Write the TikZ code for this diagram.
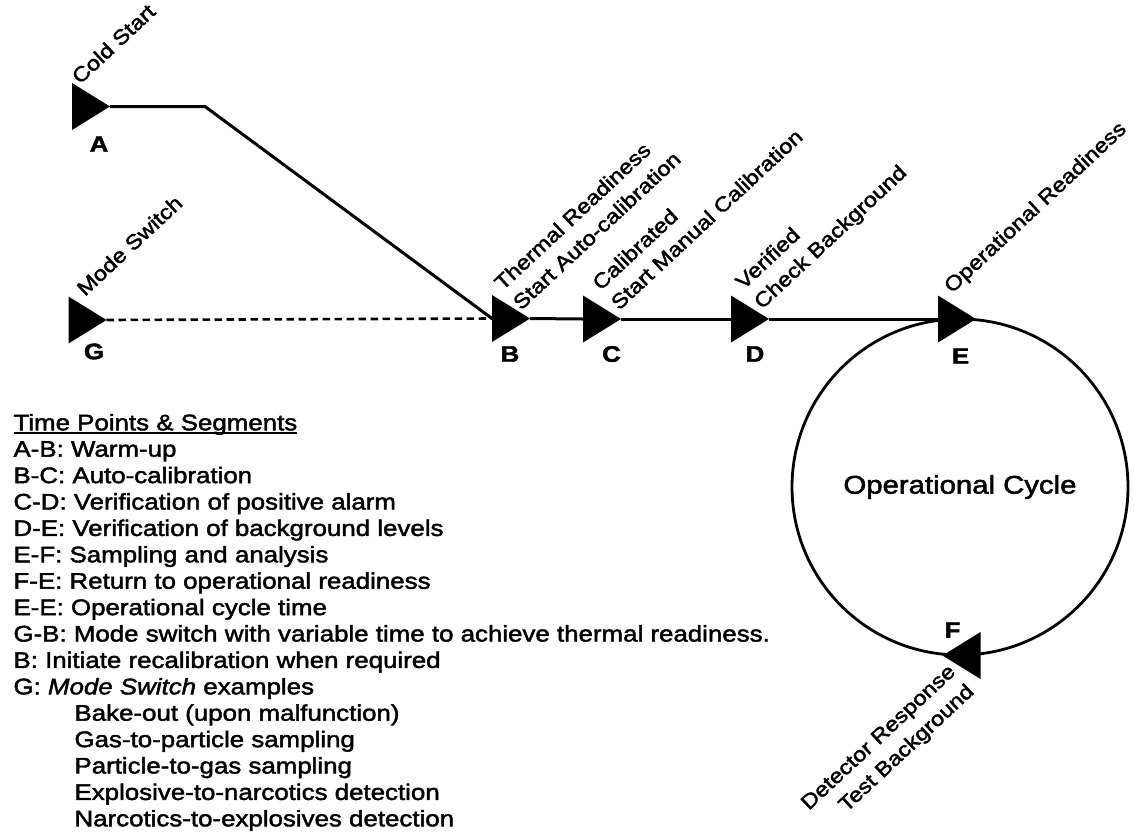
\documentclass[tikz,border=0pt]{standalone}
\usepackage{fontspec}
\setmainfont[FakeStretch=1.15,FakeBold=2]{Liberation Sans}
\newcommand\myul[1]{\leavevmode\sbox0{#1}\rlap{\rule[-3.6pt]{\wd0}{1.5pt}}\usebox0}
\begin{document}
\begin{tikzpicture}[x=1pt,y=-1pt,line width=3pt,
  tri/.style={minimum width=38pt,minimum height=47pt,inner sep=0pt,outer sep=0pt},
  letter/.style={font=\fontsize{22.5}{26}\selectfont\bfseries,inner sep=0pt},
  lbl/.style={rotate=43,anchor=south west,align=left,inner sep=0pt,text depth=0pt,
    font=\fontsize{20.5}{27}\selectfont},
  seg/.style={line width=3pt},
  dashseg/.style={line width=2.6pt,dash pattern=on 7.5pt off 4.5pt}]
\useasboundingbox (0,0) rectangle (1134,836);
% triangles
\node[tri] (A) at (91,106.5) {};
\node[tri] (G) at (87.5,320) {};
\node[tri] (B) at (511,318.5) {};
\node[tri] (C) at (602,319) {};
\node[tri] (D) at (750,319) {};
\node[tri] (E) at (957,319) {};
\node[tri] (F) at (961.5,655.5) {};
\foreach \n in {A,G,B,C,D,E}
  \fill (\n.north west) -- (\n.east) -- (\n.south west) -- cycle;
\fill (F.north east) -- (F.west) -- (F.south east) -- cycle;
% cycle
\node[draw,circle,minimum size=336pt,inner sep=0pt,line width=2.8pt,
  font=\fontsize{25.5}{30}\selectfont] (cyc) at (960,487) {Operational Cycle};
% connectors
\coordinate (bend) at (205,106.5);
\draw[seg] (A.east) -- (bend) -- (B.west);
\draw[dashseg] (G.east) -- (B.west);
\draw[seg] (B.east) -- (C.west);
\draw[seg] (C.east) -- (D.west);
\draw[seg] (D.east) -- (E.west);
% letters
\node[letter] (lA) at (99,144) {A};
\node[letter] (lG) at (94,351.5) {G};
\node[letter] (lB) at (510,354) {B};
\node[letter] (lC) at (611.5,354) {C};
\node[letter] (lD) at (755,354) {D};
\node[letter] (lE) at (960.5,356) {E};
\node[letter] (lF) at (952.5,630) {F};
% rotated labels
\node[lbl] (tA) at (80,87) {Cold Start};
\node[lbl] (tG) at (85,299) {Mode Switch};
\node[lbl] (tB) at (521,313) {Thermal Readiness\\Start Auto-calibration};
\node[lbl] (tC) at (619,313) {Calibrated\\Start Manual Calibration};
\node[lbl] (tD) at (762,312) {Verified\\Check Background};
\node[lbl] (tE) at (952,296) {Operational Readiness};
\node[lbl,anchor=south east,align=right] (tF) at (977,693) {Detector Response\\Test Background};
% legend
\node[anchor=north west,align=left,inner sep=0pt,font=\fontsize{22.5}{26.4}\selectfont] (legend) at (12,412.5) {%
\myul{Time Points \& Segments}\\
A-B: Warm-up\\
B-C: Auto-calibration\\
C-D: Verification of positive alarm\\
D-E: Verification of background levels\\
E-F: Sampling and analysis\\
F-E: Return to operational readiness\\
E-E: Operational cycle time\\
G-B: Mode switch with variable time to achieve thermal readiness.\\
B: Initiate recalibration when required\\
G: \textit{Mode Switch} examples\\
\hspace*{61pt}Bake-out (upon malfunction)\\
\hspace*{61pt}Gas-to-particle sampling\\
\hspace*{61pt}Particle-to-gas sampling\\
\hspace*{61pt}Explosive-to-narcotics detection\\
\hspace*{61pt}Narcotics-to-explosives detection};
\end{tikzpicture}
\end{document}
